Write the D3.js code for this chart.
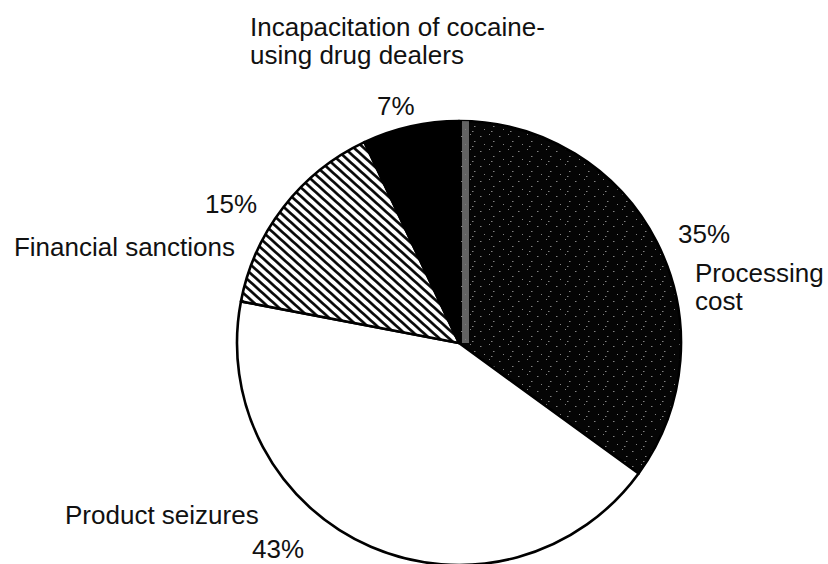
<!DOCTYPE html>
<html>
<head>
<meta charset="utf-8">
<script src="https://cdn.jsdelivr.net/npm/d3@7"></script>
<style>
  body { margin: 0; background: #fff; }
  svg { display: block; }
  text { font-family: "Liberation Sans", Arial, sans-serif; fill: #111; }
</style>
</head>
<body>
<svg id="chart" width="828" height="564"></svg>
<script>
const categories = ["Processing cost", "Product seizures", "Financial sanctions", "Incapacitation of cocaine-using drug dealers"];
const shares = [35, 43, 15, 7];
const fills = ["url(#speckle)", "#fff", "url(#hatch)", "#000"];

const W = 828, H = 564;
const cx = 459, cy = 343, R = 222;

const svg = d3.select("#chart");
const defs = svg.append("defs");

// diagonal hatching for financial sanctions
const hatch = defs.append("pattern")
  .attr("id", "hatch")
  .attr("patternUnits", "userSpaceOnUse")
  .attr("width", 6.5)
  .attr("height", 6.5)
  .attr("patternTransform", "rotate(42)");
hatch.append("rect").attr("width", 6.5).attr("height", 6.5).attr("fill", "#fff");
hatch.append("line")
  .attr("x1", 0).attr("y1", 3.25).attr("x2", 6.5).attr("y2", 3.25)
  .attr("stroke", "#000").attr("stroke-width", 2.6);

// dark speckled fill for processing cost
const speckle = defs.append("pattern")
  .attr("id", "speckle")
  .attr("patternUnits", "userSpaceOnUse")
  .attr("width", 19)
  .attr("height", 15);
speckle.append("rect").attr("width", 19).attr("height", 15).attr("fill", "#050505");
[[2, 3], [11, 1], [15, 8], [6, 11], [13, 13]].forEach(([x, y], i) => {
  speckle.append("rect")
    .attr("x", x).attr("y", y)
    .attr("width", i % 2 ? 1 : 1.5).attr("height", 1)
    .attr("fill", "#fff")
    .attr("opacity", 0.5);
});

const pie = d3.pie().sort(null).value((d) => d);
const arcs = pie(shares);
const arc = d3.arc().innerRadius(0).outerRadius(R);

const g = svg.append("g").attr("transform", `translate(${cx},${cy})`);

g.selectAll("path.slice")
  .data(arcs)
  .join("path")
  .attr("class", "slice")
  .attr("d", arc)
  .attr("fill", (d, i) => fills[i])
  .attr("stroke", "#000")
  .attr("stroke-width", 2.6)
  .attr("stroke-linejoin", "round");

// scanner streak along the left edge of the processing slice
defs.append("clipPath").attr("id", "procClip")
  .append("path").attr("d", arc(arcs[0]));
g.append("rect")
  .attr("clip-path", "url(#procClip)")
  .attr("x", 3).attr("y", -R)
  .attr("width", 7).attr("height", R)
  .attr("fill", "#7a7a7a")
  .attr("opacity", 0.8);

// labels: [text lines, x, first baseline, anchor]
const labels = [
  [["Incapacitation of cocaine-", "using drug dealers"], 250, 36, "start"],
  [[shares[3] + "%"], 377, 115, "start"],
  [[shares[2] + "%"], 205, 213, "start"],
  [["Financial sanctions"], 235, 256, "end"],
  [[shares[0] + "%"], 678, 243, "start"],
  [["Processing", "cost"], 695, 282, "start"],
  [["Product seizures"], 65, 524, "start"],
  [[shares[1] + "%"], 252, 558, "start"],
];

labels.forEach(([lines, x, y, anchor]) => {
  const t = svg.append("text")
    .attr("x", x)
    .attr("y", y)
    .attr("text-anchor", anchor)
    .attr("font-size", "26px");
  lines.forEach((s, i) => {
    t.append("tspan").attr("x", x).attr("dy", i ? 28 : 0).text(s);
  });
});
</script>
</body>
</html>
